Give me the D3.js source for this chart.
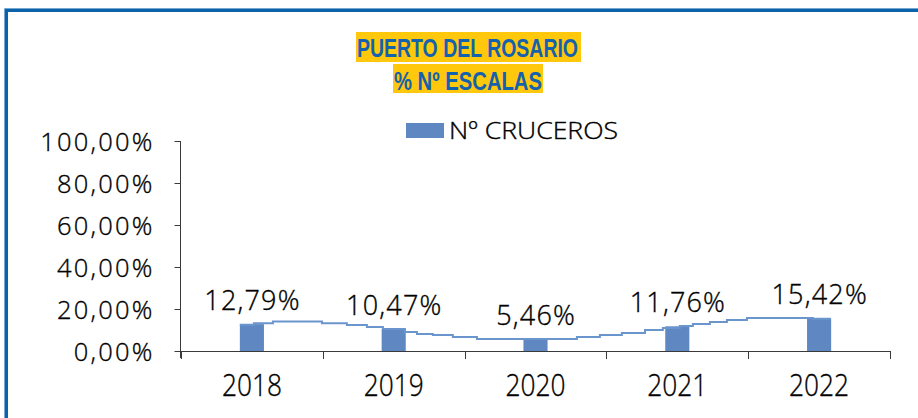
<!DOCTYPE html>
<html>
<head>
<meta charset="utf-8">
<script src="https://cdn.jsdelivr.net/npm/d3@7"></script>
<style>
  html, body { margin: 0; padding: 0; background: #fff; }
  svg { display: block; }
</style>
</head>
<body>
<svg id="chart" width="918" height="418"></svg>
<script>
// Share of cruise calls at Puerto del Rosario, per year
const years = ["2018", "2019", "2020", "2021", "2022"];
const cruceros = [0.1279, 0.1047, 0.0546, 0.1176, 0.1542];
const yTicks = [0, 0.2, 0.4, 0.6, 0.8, 1.0];
const titleLines = ["PUERTO DEL ROSARIO", "% Nº ESCALAS"];
const legendLabel = "Nº CRUCEROS";

// Smoothed trend line as it is rendered (year position, share)
const trendYear = [2017.915, 2018.014, 2018.148, 2018.494, 2018.670, 2018.811, 2018.924,
  2019.079, 2019.164, 2019.276, 2019.417, 2019.587, 2020.292, 2020.454, 2020.609,
  2020.772, 2020.898, 2021.018, 2021.110, 2021.230, 2021.350, 2021.491, 2021.956];
const trendValue = [0.125, 0.132, 0.141, 0.132, 0.124, 0.114, 0.105,
  0.090, 0.081, 0.076, 0.067, 0.057, 0.067, 0.076, 0.086,
  0.100, 0.110, 0.119, 0.129, 0.138, 0.148, 0.157, 0.154];

const svg = d3.select("#chart");
const font = "'Open Sans', 'Noto Sans', sans-serif";
const fmtPct = v => d3.format(".2f")(v * 100).replace(".", ",") + "%";

// light face, slightly thickened
const lightText = sel => sel
  .attr("font-family", font).attr("font-weight", 300)
  .attr("fill", "#000").attr("stroke", "#000").attr("stroke-width", 0.35);

// outer frame
const frame = svg.append("g");
frame.append("path").attr("d", "M6.5,418 V10.5 H918")
  .attr("fill", "none").attr("stroke", "#0b62a8").attr("stroke-width", 3);
frame.append("path").attr("d", "M4.5,418 V8.5 H918")
  .attr("fill", "none").attr("stroke", "#74a6d6").attr("stroke-width", 1);

// scales
const x = d3.scaleBand().domain(years).range([181, 890])
  .paddingInner(0.83).paddingOuter(0.415);
const y = d3.scaleLinear().domain([0, 1]).range([351, 141]);
const xCenter = d => x(d) + x.bandwidth() / 2;
const xYear = d3.scaleLinear().domain([2018, 2022]).range([xCenter("2018"), xCenter("2022")]);

const axisColor = "#3a3a3a";

// y axis
const yAxis = svg.append("g").attr("transform", "translate(180.5,0)")
  .call(d3.axisLeft(y).tickValues(yTicks).tickSize(6).tickPadding(20).tickFormat(fmtPct));
yAxis.select(".domain").remove();
yAxis.append("line").attr("x1", 0).attr("x2", 0).attr("y1", y(1)).attr("y2", y(0) + 7)
  .attr("stroke", axisColor);
yAxis.selectAll(".tick line").attr("stroke", axisColor);
yAxis.selectAll(".tick text").call(lightText)
  .attr("font-size", 25.5).attr("letter-spacing", 2.2).attr("dy", "0.36em");

// x axis: ticks on category boundaries
const xAxis = svg.append("g");
xAxis.append("line").attr("x1", 180).attr("x2", 890).attr("y1", y(0) + 0.5).attr("y2", y(0) + 0.5)
  .attr("stroke", axisColor);
const bounds = years.map(d => x(d) - x.step() * x.paddingInner() / 2);
bounds.push(x.range()[1]);
xAxis.selectAll("line.tk").data(bounds).join("line").attr("class", "tk")
  .attr("x1", d => Math.round(d) + 0.5).attr("x2", d => Math.round(d) + 0.5)
  .attr("y1", y(0)).attr("y2", y(0) + 8).attr("stroke", axisColor);
xAxis.selectAll("text").data(years).join("text")
  .attr("x", d => xCenter(d) - 30).attr("y", 396)
  .attr("textLength", 60).attr("lengthAdjust", "spacingAndGlyphs")
  .call(lightText).attr("font-size", 31).text(d => d);

// bars
svg.append("g").selectAll("rect").data(years).join("rect")
  .attr("x", d => x(d)).attr("width", x.bandwidth())
  .attr("y", (d, i) => y(cruceros[i])).attr("height", (d, i) => y(0) - y(cruceros[i]))
  .attr("fill", "#5f88c2");

// trend line
const trend = trendYear.map((t, i) => [t, trendValue[i]]);
const lineGen = d3.line().x(d => xYear(d[0])).y(d => y(d[1])).curve(d3.curveStepAfter);
svg.append("path").datum(trend.concat([[2022.083, trendValue[trendValue.length - 1]]]))
  .attr("d", lineGen).attr("fill", "none")
  .attr("stroke", "#6b95cd").attr("stroke-width", 2);

// value labels
svg.append("g").selectAll("text").data(years).join("text")
  .attr("x", d => xCenter(d) + 0.6).attr("y", (d, i) => y(cruceros[i]) - 14.5)
  .attr("text-anchor", "middle").attr("letter-spacing", 1.2)
  .call(lightText).attr("font-size", 27).text((d, i) => fmtPct(cruceros[i]));

// title with highlighted background
const title = svg.append("g");
const titleBoxes = [{ x: 356, y: 32, w: 225, h: 30, tx: 357, bl: 57, tw: 221 },
                    { x: 393, y: 64, w: 150, h: 29, tx: 394, bl: 90, tw: 148 }];
titleLines.forEach((t, i) => {
  const b = titleBoxes[i];
  title.append("rect").attr("x", b.x).attr("y", b.y).attr("width", b.w).attr("height", b.h)
    .attr("fill", "#ffc80c");
  title.append("text").attr("x", b.tx).attr("y", b.bl)
    .attr("textLength", b.tw).attr("lengthAdjust", "spacingAndGlyphs")
    .attr("font-family", "'Liberation Sans', Arial, sans-serif").attr("font-weight", "bold")
    .attr("font-size", 26).attr("fill", "#1461ad").text(t);
});

// legend
const legend = svg.append("g");
legend.append("rect").attr("x", 406).attr("y", 123).attr("width", 38).attr("height", 15)
  .attr("fill", "#5f88c2");
legend.append("text").attr("x", 449).attr("y", 139)
  .attr("textLength", 169).attr("lengthAdjust", "spacingAndGlyphs")
  .call(lightText).attr("font-size", 23).text(legendLabel);
</script>
</body>
</html>
